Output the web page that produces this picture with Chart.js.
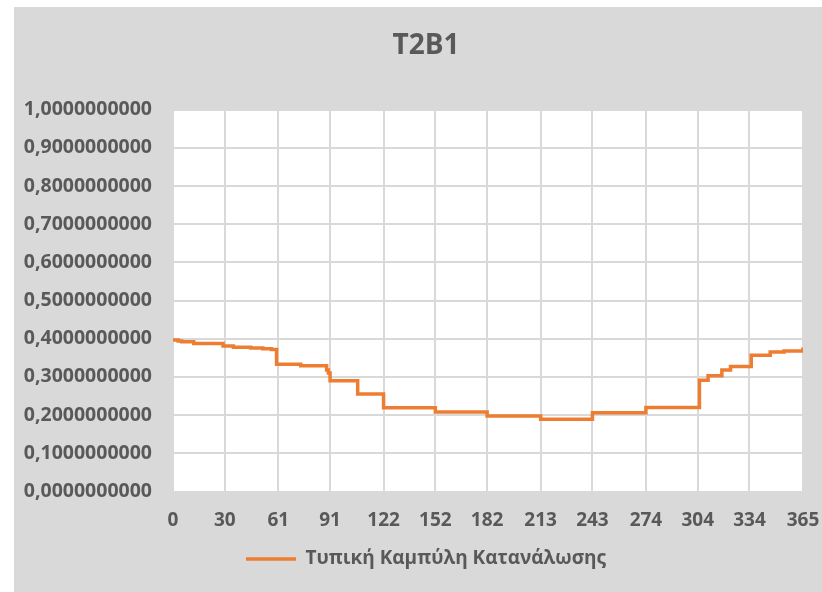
<!DOCTYPE html>
<html>
<head>
<meta charset="utf-8">
<script src="https://cdn.jsdelivr.net/npm/chart.js@4.4.1/dist/chart.umd.min.js"></script>
<style>
  html, body { margin: 0; padding: 0; background: #ffffff; }
  #wrap { position: absolute; left: 14px; top: 7px; width: 808px; height: 585px; background: #d9d9d9; }
</style>
</head>
<body>
<div id="wrap"><canvas id="myCanvas"></canvas></div>
<script>
// step points: day where the value starts, and the value it holds
const stepDays = [0, 3, 5, 12, 29, 35, 45, 52, 57, 60, 74, 89, 90, 91, 107, 122, 152, 182, 213, 243, 274, 305, 310, 318, 323, 335, 346, 354, 365]
const stepValues = [0.397, 0.394, 0.392, 0.3875, 0.381, 0.378, 0.376, 0.374, 0.372, 0.333, 0.329, 0.318, 0.31, 0.29, 0.255, 0.219, 0.208, 0.198, 0.189, 0.206, 0.22, 0.291, 0.303, 0.318, 0.327, 0.357, 0.365, 0.368, 0.377]
const xTicks = [0, 30, 61, 91, 122, 152, 182, 213, 243, 274, 304, 334, 365]
const seriesName = "Τυπική Καμπύλη Κατανάλωσης"

const textColor = "#595959"
const gridColor = "#d9d9d9"
const fontFamily = "'Open Sans', sans-serif"

const plotBg = {
  id: "plotBg",
  beforeDraw(chart) {
    const { ctx, chartArea } = chart
    ctx.save()
    ctx.fillStyle = "#ffffff"
    ctx.fillRect(chartArea.left, chartArea.top, chartArea.width, chartArea.height)
    ctx.restore()
  },
}

const ctx = document.getElementById("myCanvas").getContext("2d")

new Chart(ctx, {
  type: "line",
  data: {
    datasets: [
      {
        label: seriesName,
        data: stepDays.map((d, i) => ({ x: d, y: stepValues[i] })),
        borderColor: "#ed7d31",
        backgroundColor: "#ed7d31",
        borderWidth: 3.5,
        pointRadius: 0,
        stepped: true,
        fill: false,
      },
    ],
  },
  options: {
    responsive: true,
    maintainAspectRatio: false,
    animation: false,
    // left padding keeps title and legend centred like the original
    layout: { padding: { left: 35, right: 19, top: 0, bottom: 13.5 } },
    plugins: {
      title: {
        display: true,
        text: "T2B1",
        color: textColor,
        font: { family: fontFamily, size: 28, weight: "bold" },
        padding: { top: 22, bottom: 47 },
      },
      legend: {
        display: true,
        position: "bottom",
        labels: {
          color: textColor,
          font: { family: fontFamily, size: 19, weight: "bold" },
          usePointStyle: true,
          pointStyle: "line",
          pointStyleWidth: 50,
          padding: 10,
        },
      },
      tooltip: { enabled: false },
    },
    scales: {
      x: {
        type: "linear",
        min: 0,
        max: 365,
        afterBuildTicks(scale) {
          scale.ticks = xTicks.map((v) => ({ value: v }))
        },
        afterFit(scale) {
          scale.height = 48
          scale.paddingLeft = 0
          scale.paddingRight = 0
        },
        grid: { color: gridColor, lineWidth: 2, drawTicks: false },
        border: { color: gridColor, width: 2 },
        ticks: {
          color: textColor,
          font: { family: fontFamily, size: 19, weight: "bold" },
          padding: 18,
          maxRotation: 0,
          autoSkip: false,
          callback: (v) => String(v),
        },
      },
      y: {
        min: 0,
        max: 1,
        afterFit(scale) {
          scale.width = 124
          // labels run past the axis box into the left padding
          scale._computeLabelArea = () => undefined
        },
        grid: { color: gridColor, lineWidth: 2, drawTicks: false },
        border: { color: gridColor, width: 2 },
        ticks: {
          stepSize: 0.1,
          color: textColor,
          font: { family: fontFamily, size: 19.5, weight: "bold" },
          padding: 21,
          callback: (v) => v.toFixed(10).replace(".", ","),
        },
      },
    },
  },
  plugins: [plotBg],
})
</script>
</body>
</html>
